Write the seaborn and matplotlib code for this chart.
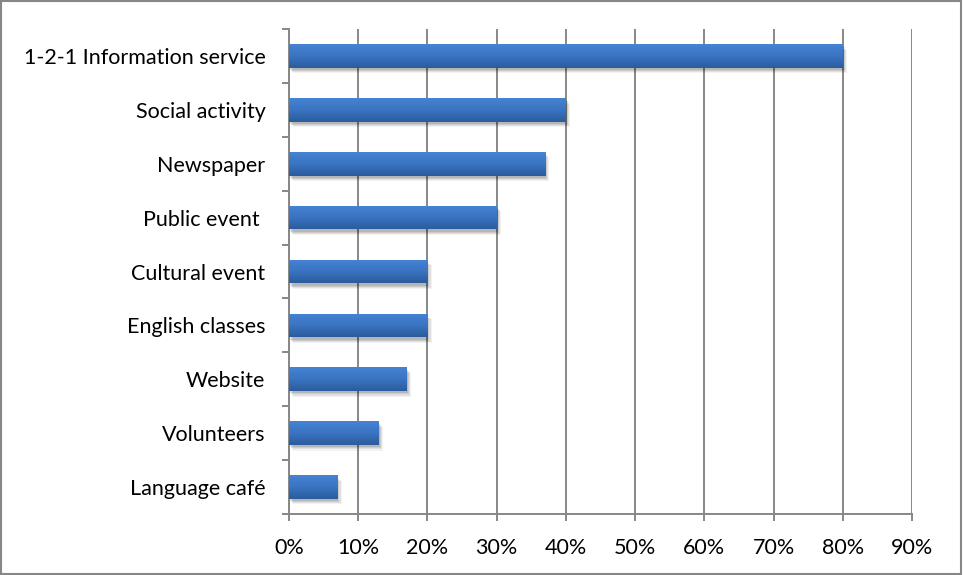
import numpy as np
import pandas as pd
import matplotlib
matplotlib.use("Agg")
import matplotlib.pyplot as plt
import matplotlib.patheffects as pe
from matplotlib.colors import LinearSegmentedColormap
from matplotlib.patches import Rectangle
import seaborn as sns

categories = [
    "1-2-1 Information service",
    "Social activity",
    "Newspaper",
    "Public event ",
    "Cultural event",
    "English classes",
    "Website",
    "Volunteers",
    "Language café",
]
shares = [80, 40, 37, 30, 20, 20, 17, 13, 7]
x_ticks = [0, 10, 20, 30, 40, 50, 60, 70, 80, 90]

df = pd.DataFrame({"activity": categories, "share": shares})

sns.set_theme(style="white")
plt.rcParams["font.family"] = ["Lato", "DejaVu Sans"]

grid_col = "#878787"

fig = plt.figure(figsize=(9.63, 5.75), dpi=100)
ax = fig.add_axes([289 / 963, 1 - 514 / 575, (912 - 289) / 963, (514 - 29) / 575])

sns.barplot(data=df, x="share", y="activity", orient="h", color="#3A72C0",
            width=0.44, ax=ax, zorder=3)

# vertical gradient fill on each bar plus a soft drop shadow
cmap = LinearSegmentedColormap.from_list("bar", ["#4683D3", "#3A74C2", "#2B5C9C"])
grad = np.linspace(0, 1, 64).reshape(-1, 1)
shadow = [pe.SimplePatchShadow(offset=(o, -o - 1), shadow_rgbFace="#000000", alpha=a)
          for o, a in [(3.0, 0.05), (2.2, 0.07), (1.4, 0.09), (0.7, 0.1)]]
for p in ax.patches:
    p.set_edgecolor("none")
    p.set_path_effects(shadow + [pe.Normal()])
    x0, y0 = p.get_x(), p.get_y()
    w, h = p.get_width(), p.get_height()
    im = ax.imshow(grad, cmap=cmap, aspect="auto", extent=(x0, x0 + w, y0 + h, y0),
                   origin="upper", zorder=4, interpolation="bicubic")
    im.set_clip_path(p)

ax.set_xlim(0, 90)
ax.set_ylim(len(categories) - 0.5, -0.5)
ax.set_xticks(x_ticks)
ax.set_xticklabels([f"{t}%" for t in x_ticks])
ax.set_xlabel("")
ax.set_ylabel("")

ax.grid(axis="x", color=grid_col, linewidth=1.4, zorder=0)
ax.set_axisbelow(True)
for s in ["top", "right"]:
    ax.spines[s].set_visible(False)
for s in ["left", "bottom"]:
    ax.spines[s].set_color(grid_col)
    ax.spines[s].set_linewidth(1.4)

ax.tick_params(axis="x", which="major", direction="out", length=5, width=1.4,
               color=grid_col, pad=12, labelsize=15.5, labelcolor="black", bottom=True)
ax.tick_params(axis="y", which="major", length=0, pad=17, labelsize=15.5,
               labelcolor="black")
ax.set_yticks(np.arange(-0.5, len(categories), 1.0), minor=True)
ax.tick_params(axis="y", which="minor", direction="out", length=5, width=1.4,
               color=grid_col, left=True)

# outer chart border
fig.patches.append(Rectangle((0.001, 0.001), 0.997, 0.997, transform=fig.transFigure,
                             fill=False, edgecolor=grid_col, linewidth=1.5))

fig.savefig("out.png", dpi=100, facecolor="white")
